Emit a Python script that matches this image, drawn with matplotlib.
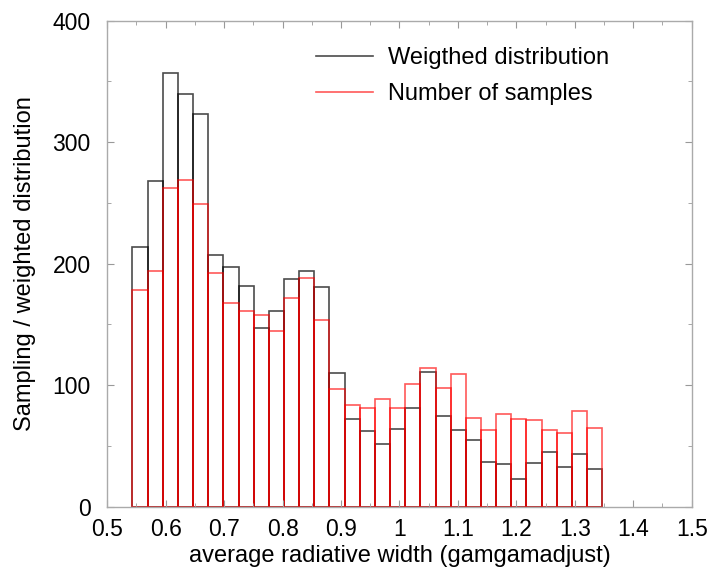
import numpy as np
import matplotlib
matplotlib.use("Agg")
import matplotlib.pyplot as plt
from matplotlib.lines import Line2D
from matplotlib.ticker import MultipleLocator

# bin range of the histogram (31 bins)
bin_lo = 0.543
bin_hi = 1.347
n_bins = 31

# weighted distribution per bin
weighted = [214, 268, 357, 340, 323, 207, 197, 182, 147, 161, 187, 194, 181, 110, 72,
            62, 52, 64, 81, 111, 75, 63, 55, 37, 35, 23, 36, 45, 33, 43, 31]
# number of samples per bin
samples = [178, 194, 262, 269, 249, 192, 168, 161, 158, 145, 172, 188, 154, 97, 84,
           81, 89, 81, 101, 114, 98, 109, 73, 63, 76, 72, 71, 63, 61, 79, 65]

edges = np.linspace(bin_lo, bin_hi, n_bins + 1)
width = edges[1] - edges[0]

plt.rcParams['font.family'] = ['Liberation Sans', 'DejaVu Sans']

fig = plt.figure(figsize=(7.09, 5.73), dpi=100)
ax = fig.add_axes([0.1513, 0.1157, 0.8243, 0.8482])

ax.bar(edges[:-1], weighted, width=width, align='edge', fill=False,
       edgecolor='#000000', alpha=0.7, linewidth=1.2)
ax.bar(edges[:-1], samples, width=width, align='edge', fill=False,
       edgecolor='#ff0000', alpha=0.65, linewidth=1.2)

ax.set_xlim(0.5, 1.5)
ax.set_ylim(0, 400)
ax.xaxis.set_minor_locator(MultipleLocator(0.05))
ax.yaxis.set_major_locator(MultipleLocator(100))
ax.yaxis.set_minor_locator(MultipleLocator(50))
ax.set_xticks(np.arange(0.5, 1.51, 0.1))
ax.set_xticklabels(['0.5', '0.6', '0.7', '0.8', '0.9', '1', '1.1', '1.2', '1.3', '1.4', '1.5'])

ax.tick_params(which='both', direction='in', top=True, right=True,
               color='#999999', labelsize=16.5)
ax.tick_params(axis='x', pad=8)
ax.tick_params(axis='y', pad=12)
ax.tick_params(which='major', length=5)
ax.tick_params(which='minor', length=3)
for s in ax.spines.values():
    s.set_color('#aaaaaa')
    s.set_linewidth(1.0)

ax.set_xlabel('average radiative width (gamgamadjust)', fontsize=17, labelpad=3)
ax.set_ylabel('Sampling / weighted distribution', fontsize=17, labelpad=12)

handles = [Line2D([], [], color='#000000', alpha=0.7, lw=1.2),
           Line2D([], [], color='#ff0000', alpha=0.65, lw=1.2)]
ax.legend(handles, ['Weigthed distribution', 'Number of samples'],
          loc='upper left', bbox_to_anchor=(0.321, 0.99), frameon=False,
          fontsize=17, handlelength=2.4, handletextpad=0.65, labelspacing=0.62)

fig.savefig('out.png', dpi=100)
